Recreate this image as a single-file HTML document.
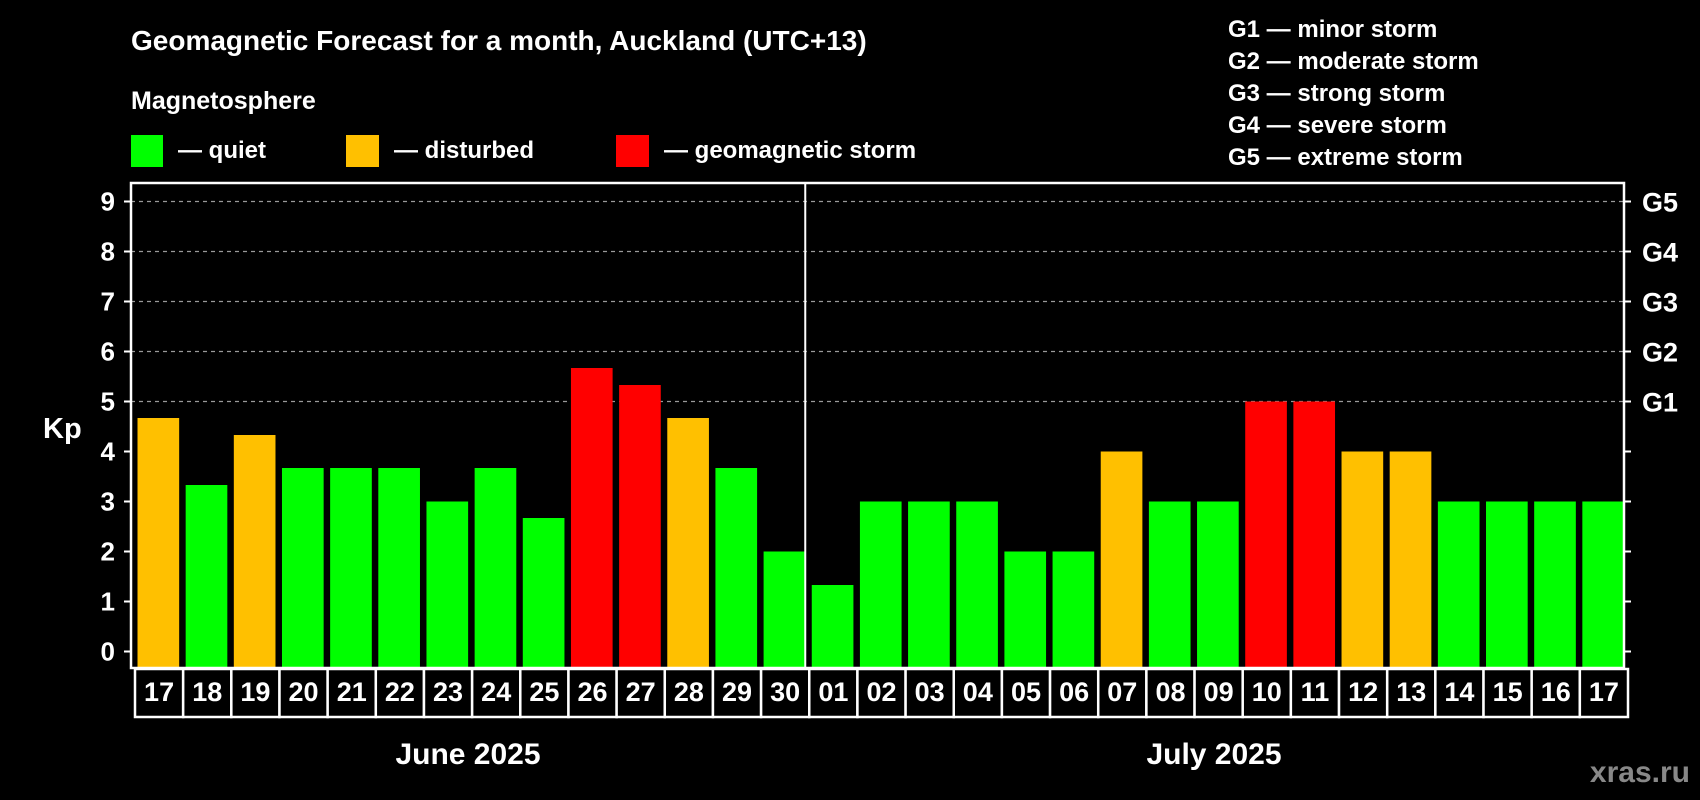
<!DOCTYPE html>
<html><head><meta charset="utf-8"><style>
html,body{margin:0;padding:0;background:#000;}
svg{display:block;font-family:"Liberation Sans",Arial,sans-serif;font-weight:bold;}
</style></head><body>
<svg id="chart" width="1700" height="800" viewBox="0 0 1700 800">
<rect x="0" y="0" width="1700" height="800" fill="#000"/>
<text x="131" y="50" fill="#fff" font-size="28">Geomagnetic Forecast for a month, Auckland (UTC+13)</text>
<text x="131" y="109" fill="#fff" font-size="25">Magnetosphere</text>
<g>
<rect x="131" y="135" width="32" height="32" fill="#00ff00"/>
<text x="178" y="158" fill="#fff" font-size="24">— quiet</text></g>
<g>
<rect x="346" y="135" width="33" height="32" fill="#ffc000"/>
<text x="394" y="158" fill="#fff" font-size="24">— disturbed</text></g>
<g>
<rect x="616" y="135" width="33" height="32" fill="#ff0000"/>
<text x="664" y="158" fill="#fff" font-size="24">— geomagnetic storm</text></g>
<g fill="#fff" font-size="24">
<text x="1228" y="37">G1 — minor storm</text>
<text x="1228" y="69">G2 — moderate storm</text>
<text x="1228" y="101">G3 — strong storm</text>
<text x="1228" y="133">G4 — severe storm</text>
<text x="1228" y="165">G5 — extreme storm</text>
</g>
<text x="43" y="438" fill="#fff" font-size="29">Kp</text>
<text x="468" y="764" fill="#fff" font-size="30" text-anchor="middle">June 2025</text>
<text x="1214" y="764" fill="#fff" font-size="30" text-anchor="middle">July 2025</text>
<text x="1690" y="782" fill="#888" font-size="30" text-anchor="end">xras.ru</text>
<g id="plot"></g>
</svg>
<script>
const days = ["17","18","19","20","21","22","23","24","25","26","27","28","29","30","01","02","03","04","05","06","07","08","09","10","11","12","13","14","15","16","17"];
const kp = [4.67,3.33,4.33,3.67,3.67,3.67,3,3.67,2.67,5.67,5.33,4.67,3.67,2,1.33,3,3,3,2,2,4,3,3,5,5,4,4,3,3,3,3];
const yTicks = [0,1,2,3,4,5,6,7,8,9];
const gLabels = ["G1","G2","G3","G4","G5"];
const gLevels = [5,6,7,8,9];
const NS="http://www.w3.org/2000/svg";
const L=131, R=1624, T=183, B=668;
const pitch=(R-L)/days.length;
function yS(v){return 651.5-50*v;}
function xS(i){return L+i*pitch;}
function col(v){return v>=5?"#ff0000":(v>=4?"#ffc000":"#00ff00");}
const g=document.getElementById("plot");
function mk(t,a){const e=document.createElementNS(NS,t);for(const k in a)e.setAttribute(k,a[k]);g.appendChild(e);return e;}
gLevels.forEach(v=>{
 const e=mk("line",{x1:L,x2:R,y1:yS(v),y2:yS(v),stroke:"#999","stroke-width":1.2,"stroke-dasharray":"4,4"});
 
 
});
kp.forEach((v,i)=>{
 const y=yS(v);
 const e=mk("rect",{x:xS(i)+6.5,y:y,width:pitch-6.5,height:B-y,fill:col(v)});
 
 
});
const sep=mk("line",{x1:xS(14),x2:xS(14),y1:T,y2:B,stroke:"#fff","stroke-width":2});


const fr=mk("rect",{x:L,y:T,width:R-L,height:B-T,fill:"none",stroke:"#fff","stroke-width":2.5});


yTicks.forEach(v=>{
 mk("line",{x1:L-7,x2:L,y1:yS(v),y2:yS(v),stroke:"#fff","stroke-width":2});
 mk("line",{x1:R,x2:R+7,y1:yS(v),y2:yS(v),stroke:"#fff","stroke-width":2});
 const t=mk("text",{x:115,y:yS(v)+9,fill:"#fff","font-size":26,"text-anchor":"end"});
 t.textContent=v;
 
 
});
gLabels.forEach((s,i)=>{
 const t=mk("text",{x:1642,y:yS(gLevels[i])+10,fill:"#fff","font-size":27});
 t.textContent=s;
 
 
});
days.forEach((d,i)=>{
 const c=mk("rect",{x:xS(i)+4,y:669,width:pitch,height:48,fill:"#000",stroke:"#fff","stroke-width":2.5});
 
 
 const t=mk("text",{x:xS(i)+4+pitch/2,y:701,fill:"#fff","font-size":27,"text-anchor":"middle"});
 t.textContent=d;
 
 
});
</script>
</body></html>
